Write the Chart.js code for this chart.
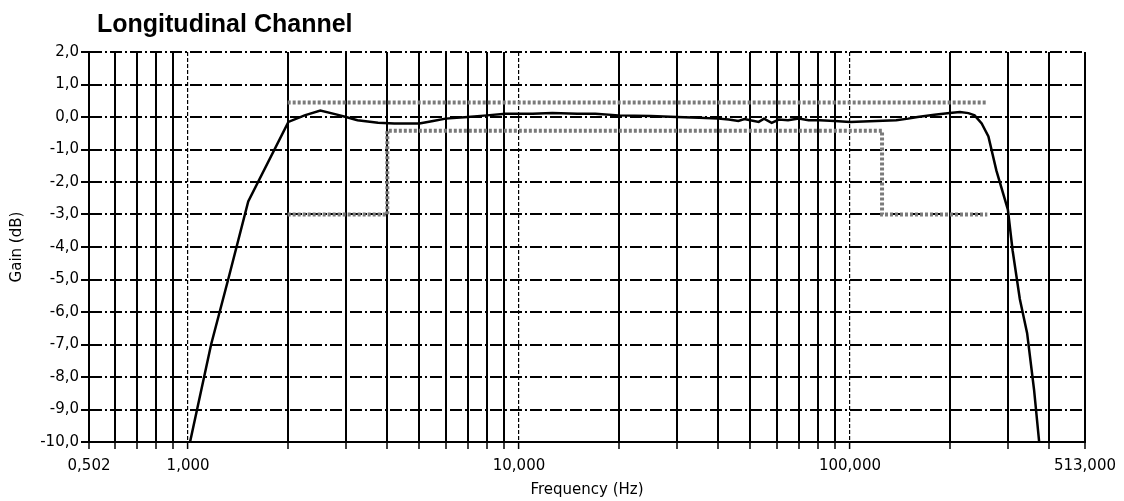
<!DOCTYPE html>
<html>
<head>
<meta charset="utf-8">
<title>Longitudinal Channel</title>
<script src="https://cdn.jsdelivr.net/npm/chart.js@4.4.1/dist/chart.umd.min.js"></script>
<style>
  html, body { margin: 0; padding: 0; background: #fff; }
</style>
</head>
<body>
<canvas id="gain-chart" width="1124" height="501"></canvas>
<script>
// Measured gain of the longitudinal channel
var response_freq = [1.014, 1.174, 1.322, 1.52, 2.01, 2.25, 2.51, 2.8, 3.0, 3.25, 3.75, 4.2, 5.0, 5.5, 6.0,
  7.0, 8.0, 9.1, 11, 12.6, 15, 17, 20, 25, 30, 35, 40, 43, 46, 48, 50, 53, 55, 58, 61, 65, 70, 75, 81,
  90, 100, 120, 138, 150, 160, 180, 200, 215, 228, 238, 250, 262, 277, 300, 310, 326, 343, 360, 373];
var response_gain = [-10, -7.0, -5.0, -2.6, -0.15, 0.05, 0.2, 0.08, 0.0, -0.1, -0.18, -0.2, -0.2, -0.12, -0.05,
  0.0, 0.05, 0.1, 0.1, 0.12, 0.1, 0.1, 0.05, 0.03, 0.0, -0.02, -0.05, -0.08, -0.12, -0.06, -0.1, -0.15, -0.05, -0.18, -0.08, -0.1, -0.05, -0.1, -0.1,
  -0.12, -0.15, -0.12, -0.1, -0.05, 0.0, 0.07, 0.12, 0.15, 0.12, 0.05, -0.2, -0.6, -1.65, -2.85, -4.1, -5.6, -6.65, -8.4, -10];

// Tolerance mask
var upper_freq = [2.0, 260];
var upper_gain = [0.45, 0.45];
var lower_freq = [2.0, 4.0, 4.0, 125, 125, 260];
var lower_gain = [-3.0, -3.0, -0.42, -0.42, -3.0, -3.0];

// Axis ticks
var freq_grid = [0.502, 0.6, 0.7, 0.8, 0.9, 1, 2, 3, 4, 5, 6, 7, 8, 9, 10, 20, 30, 40, 50, 60, 70, 80, 90,
  100, 200, 300, 400, 513];
var freq_label_values = [0.502, 1, 10, 100, 513];
var freq_label_text = ["0,502", "1,000", "10,000", "100,000", "513,000"];
var decade_lines = [1, 10, 100];

function to_points(xs, ys) {
  var points = [];
  for (i = 0; i < xs.length; i++) {
    points.push({x: xs[i], y: ys[i]});
  }
  return points;
}

function freq_label(value) {
  var k = freq_label_values.indexOf(value);
  return k >= 0 ? freq_label_text[k] : '';
}

function is_decade(ctx) {
  return ctx.tick && decade_lines.indexOf(ctx.tick.value) >= 0;
}

// Title sits left-aligned above the plot, drawn by hand
var chart_title = {
  id: 'chart_title',
  afterDraw: function(chart) {
    var c = chart.ctx;
    c.save();
    c.font = 'bold 25px "Liberation Sans", Arial, sans-serif';
    c.fillStyle = '#000';
    c.textBaseline = 'alphabetic';
    c.fillText('Longitudinal Channel', 97, 32);
    c.restore();
  }
};

var tick_font = {family: '"DejaVu Sans", Verdana, sans-serif', size: 15};

new Chart(document.getElementById('gain-chart'), {
  type: 'line',
  data: {
    datasets: [
      {
        label: 'Upper limit',
        data: to_points(upper_freq, upper_gain),
        borderColor: '#7a7a7a',
        borderWidth: 4,
        borderDash: [3, 2],
        pointRadius: 0
      },
      {
        label: 'Lower limit',
        data: to_points(lower_freq, lower_gain),
        borderColor: '#7a7a7a',
        borderWidth: 4,
        borderDash: [3, 2],
        pointRadius: 0
      },
      {
        label: 'Gain',
        data: to_points(response_freq, response_gain),
        borderColor: '#000',
        borderWidth: 2.5,
        pointRadius: 0,
        tension: 0
      }
    ]
  },
  options: {
    responsive: false,
    animation: false,
    layout: { padding: { top: 52, right: 35, bottom: 0, left: 0 } },
    plugins: {
      legend: { display: false },
      tooltip: { enabled: false }
    },
    scales: {
      x: {
        type: 'logarithmic',
        min: 0.502,
        max: 513,
        afterBuildTicks: function(scale) {
          scale.ticks = freq_grid.map(function(v) { return {value: v}; });
        },
        afterFit: function(scale) { scale.height = 59; },
        ticks: {
          autoSkip: false,
          maxRotation: 0,
          padding: 8,
          color: '#000',
          font: tick_font,
          callback: function(value) { return freq_label(value); }
        },
        grid: {
          color: '#000',
          lineWidth: function(ctx) { return is_decade(ctx) ? 1.2 : 2; },
          tickLength: 7,
          tickWidth: 1.5,
          tickColor: '#000'
        },
        border: {
          display: true,
          color: '#000',
          width: 2,
          dash: function(ctx) { return is_decade(ctx) ? [4, 2] : []; }
        },
        title: {
          display: true,
          text: 'Frequency (Hz)',
          color: '#000',
          font: tick_font,
          padding: { top: 0, bottom: 2 }
        }
      },
      y: {
        min: -10,
        max: 2,
        afterFit: function(scale) { scale.width = 89; },
        ticks: {
          stepSize: 1,
          padding: 2,
          color: '#000',
          font: tick_font,
          callback: function(value) { return value.toFixed(1).replace('.', ','); }
        },
        grid: {
          color: '#000',
          lineWidth: 2,
          tickLength: 8,
          tickWidth: 2,
          tickColor: '#000'
        },
        border: {
          display: true,
          color: '#000',
          width: 2,
          dash: [12, 3, 2, 3]
        },
        title: {
          display: true,
          text: 'Gain (dB)',
          color: '#000',
          font: tick_font,
          padding: { top: 8, bottom: 0 }
        }
      }
    }
  },
  plugins: [chart_title]
});
</script>
</body>
</html>
